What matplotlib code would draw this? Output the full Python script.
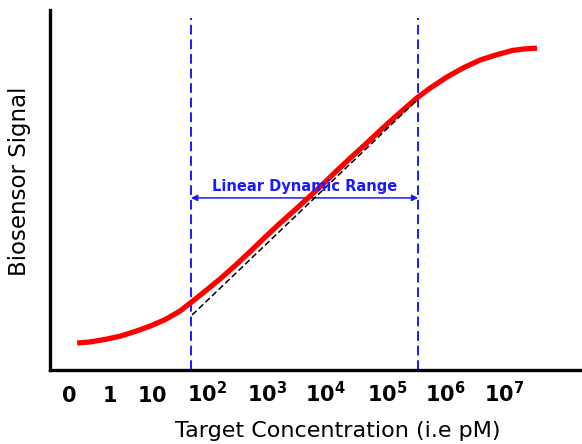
import matplotlib
matplotlib.use("Agg")
import matplotlib.pyplot as plt

# --------------------------
# Data
# --------------------------
# x axis in "decades" of target concentration, y axis is relative signal (0..1)
curve_x = [-0.167, 0.05, 0.30, 0.55, 0.80, 1.05, 1.30, 1.55, 1.75, 1.967,
           2.217, 2.467, 2.717, 2.967, 3.217, 3.467, 3.683, 3.917, 4.133, 4.383,
           4.633, 4.883, 5.133, 5.333, 5.50, 5.717, 6.00, 6.267, 6.55, 6.833,
           7.10, 7.30, 7.50]
curve_y = [0.075, 0.078, 0.085, 0.094, 0.107, 0.122, 0.140, 0.164, 0.190, 0.219,
           0.253, 0.290, 0.329, 0.369, 0.408, 0.445, 0.478, 0.514, 0.549, 0.588,
           0.626, 0.665, 0.703, 0.732, 0.756, 0.783, 0.814, 0.839, 0.861, 0.876,
           0.888, 0.892, 0.894]

fit_x = [1.75, 5.50]
fit_y = [0.153, 0.750]

range_lo = 1.73
range_hi = 5.52
range_level = 0.478
range_label = "Linear Dynamic Range"

tick_pos = [-0.30, 0.37, 1.08, 2.0, 3.0, 3.97, 5.0, 5.97, 6.95]
tick_labels = [r"$\mathbf{0}$", r"$\mathbf{1}$", r"$\mathbf{10}$",
               r"$\mathbf{10^{2}}$", r"$\mathbf{10^{3}}$", r"$\mathbf{10^{4}}$",
               r"$\mathbf{10^{5}}$", r"$\mathbf{10^{6}}$", r"$\mathbf{10^{7}}$"]

xlabel = "Target Concentration (i.e pM)"
ylabel = "Biosensor Signal"

# --------------------------
# Plot
# --------------------------
plt.rcParams["mathtext.fontset"] = "dejavusans"

fig = plt.figure(figsize=(5.82, 4.44), dpi=100)
ax = fig.add_axes([50 / 582, 74 / 444, 532 / 582, 360 / 444])

ax.plot(curve_x, curve_y, color="#ff0000", lw=3.8, solid_capstyle="butt",
        solid_joinstyle="round", zorder=3)
ax.plot(fit_x, fit_y, color="black", lw=1.1, ls=(0, (4, 2)), zorder=4)

for xv in (range_lo, range_hi):
    ax.plot([xv, xv], [0, 0.978], color="#1a1aff", lw=1.4, ls=(0, (5, 2.5)), zorder=2)

ax.annotate("", xy=(range_lo, range_level), xytext=(range_hi, range_level),
            arrowprops=dict(arrowstyle="<|-|>", color="#1a1aff", lw=1.1,
                            mutation_scale=9, shrinkA=0, shrinkB=0), zorder=2)
ax.text((range_lo + range_hi) / 2, range_level + 0.012, range_label, color="#1a1aff",
        fontsize=10.5, fontweight="bold", ha="center", va="bottom", zorder=5)

ax.set_xlim(-0.62, 8.25)
ax.set_ylim(0, 1)

ax.set_xticks(tick_pos)
ax.set_xticklabels(tick_labels, fontsize=15)
# keep all labels on one baseline, like the reference
for lbl in ax.get_xticklabels():
    lbl.set_verticalalignment("baseline")
ax.tick_params(axis="x", length=0, pad=23)
ax.set_yticks([])

for side in ("top", "right"):
    ax.spines[side].set_visible(False)
for side in ("left", "bottom"):
    ax.spines[side].set_linewidth(2.4)
    ax.spines[side].set_color("black")

fig.text(338 / 582, 1 - 431 / 444, xlabel, fontsize=16, ha="center", va="center")
fig.text(20 / 582, 1 - 181 / 444, ylabel, fontsize=16.5, rotation=90, ha="center", va="center")

fig.savefig("out.png", dpi=100)
